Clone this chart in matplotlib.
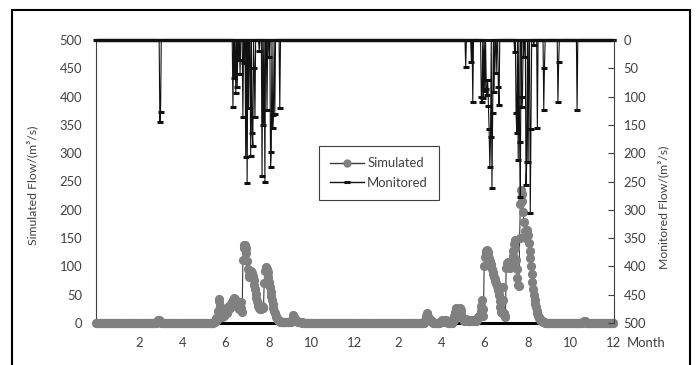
import numpy as np
import matplotlib
matplotlib.use('Agg')
import matplotlib.pyplot as plt
from matplotlib.lines import Line2D
from matplotlib.patches import Rectangle

plt.rcParams['font.family'] = ['Lato', 'DejaVu Sans']

""" data """
# two years of daily flow, m3/s
n_days = 730

# simulated flow: zero baseline with these runs of daily values (start day, values)
sim_y1_spring_start = 86
sim_y1_spring = [2, 4, 6, 5, 3, 2]

sim_y1_flood_start = 166
sim_y1_flood = [1, 2, 4, 8, 5, 9, 22, 38, 42, 30, 16, 12, 10, 14, 18, 13, 20, 24, 17, 22,
                28, 24, 30, 26, 33, 37, 31, 40, 44, 38, 42, 35, 30, 34, 37, 29, 24, 32, 37, 27,
                20, 112, 132, 138, 137, 133, 124, 110, 96, 85, 82, 86, 90, 91, 88, 83, 76, 68, 60, 52,
                45, 39, 34, 30, 27, 25, 24, 27, 30, 28, 26, 70, 92, 98, 99, 96, 90, 82, 73, 64,
                55, 47, 40, 33, 27, 22, 17, 13, 10, 8, 6, 5, 4, 3, 2, 2, 1, 1, 1, 1,
                1, 1, 1, 1, 1, 1, 1, 1, 1, 2, 6, 11, 14, 11, 7, 5, 4, 3, 2, 2,
                1, 1, 1, 1, 1]

sim_y2_spring_start = 463
sim_y2_spring = [3, 6, 12, 18, 16, 11, 8, 6, 5, 4, 3, 2]

sim_y2_may_start = 485
sim_y2_may = [2, 4, 3, 5, 3, 2, 4, 6, 5, 3, 2]

sim_y2_flood_start = 503
sim_y2_flood = [3, 6, 12, 20, 25, 26, 22, 16, 20, 25, 26, 23, 16, 10, 7, 5, 4, 3, 5, 7,
                5, 4, 3, 3, 4, 6, 4, 3, 3, 4, 5, 4, 3, 4, 6, 8, 10, 13, 15, 22,
                30, 40, 25, 12, 100, 116, 124, 128, 129, 126, 120, 114, 109, 104, 99, 95, 90, 86, 82, 78,
                74, 70, 66, 62, 58, 50, 38, 28, 20, 18, 64, 40, 18, 12, 10, 98, 106, 108, 104, 100,
                97, 100, 104, 110, 118, 128, 140, 147, 132, 112, 95, 80, 68, 66, 150, 210, 235, 228, 215, 196,
                178, 162, 152, 150, 158, 164, 156, 142, 128, 114, 100, 86, 72, 60, 50, 41, 34, 28, 22, 17,
                13, 10, 8, 6, 5, 4, 3, 2, 2, 1]

sim_y2_late_start = 686
sim_y2_late = [1, 2, 4, 3, 2]

# monitored flow: zero except on these days
mon_days = [90, 91,
            193, 195, 197, 199, 201, 203, 207, 209, 211, 213, 215, 218, 220, 221, 223, 224,
            230, 234, 236, 238, 241, 244, 246, 247, 249, 250, 252, 259,
            521, 529, 531, 543, 544, 546, 548, 550, 551, 552, 553, 554, 555, 556, 558, 559,
            561, 564, 567, 568, 590, 592, 593, 595, 597, 598, 600, 601, 603, 606, 607, 609,
            612, 613, 617, 622, 631, 632, 651, 652, 678]
mon_vals = [145, 127,
            119, 67, 94, 83, 35, 60, 136, 40, 206, 253, 120, 205, 164, 187, 50, 136,
            20, 240, 150, 250, 124, 30, 224, 198, 156, 132, 130, 121,
            47, 38, 109, 100, 110, 102, 90, 87, 97, 71, 117, 158, 225, 171, 262, 129,
            92, 58, 83, 115, 21, 129, 165, 212, 180, 277, 118, 100, 30, 256, 216, 216,
            305, 158, 9, 156, 123, 49, 110, 39, 124]

month_ticks = [2, 4, 6, 8, 10, 12, 14, 16, 18, 20, 22, 24]
month_labels = ['2', '4', '6', '8', '10', '12', '2', '4', '6', '8', '10', '12']
flow_ticks = list(range(0, 501, 50))

""" build series """
day = np.arange(n_days)
simulated = np.zeros(n_days)
for start, vals in [(sim_y1_spring_start, sim_y1_spring), (sim_y1_flood_start, sim_y1_flood),
                    (sim_y2_spring_start, sim_y2_spring), (sim_y2_may_start, sim_y2_may),
                    (sim_y2_flood_start, sim_y2_flood), (sim_y2_late_start, sim_y2_late)]:
    simulated[start:start + len(vals)] = vals
monitored = np.zeros(n_days)
monitored[mon_days] = mon_vals

""" plot """
text_col = '#404040'
fs = 9.4
fs_lab = 8.8
fig = plt.figure(figsize=(6.97, 3.65), dpi=100)
fig.patches.append(Rectangle((12 / 697, -0.1), 678 / 697, 1.1 - 10 / 365, transform=fig.transFigure,
                             fill=False, edgecolor='black', linewidth=1.5))

ax1 = fig.add_axes([96 / 697, 1 - 323 / 365, 518 / 697, 283 / 365])
ax1.plot(day, simulated, color='#3a3a3a', linewidth=0.8, marker='o', markersize=5.6,
         markerfacecolor='#808080', markeredgecolor='#808080', clip_on=False, zorder=3)
ax1.set_xlim(0, n_days)
ax1.set_ylim(0, 500)
ax1.set_yticks(flow_ticks)
ax1.set_xticks([m * n_days / 24 for m in month_ticks])
ax1.set_xticklabels(month_labels)
ax1.tick_params(axis='x', length=0, pad=10, labelsize=fs, labelcolor=text_col)
ax1.tick_params(axis='y', length=0, pad=10, labelsize=fs, labelcolor=text_col)
ax1.spines['top'].set_visible(False)
ax1.spines['right'].set_visible(False)
ax1.spines['left'].set_color('#404040')
ax1.spines['left'].set_linewidth(0.8)
ax1.spines['bottom'].set_color('black')
ax1.spines['bottom'].set_linewidth(2.2)
ax1.set_ylabel('Simulated Flow/(m³/s)', fontsize=fs_lab, color=text_col)
ax1.yaxis.set_label_coords(-0.112, 0.488)

ax2 = ax1.twinx()
ax2.plot(day, monitored, color='#111111', linewidth=0.8, marker='_', markersize=4.5,
         markeredgewidth=2.2, clip_on=False)
ax2.set_ylim(500, 0)
ax2.set_yticks(flow_ticks)
ax2.tick_params(axis='y', direction='in', length=4, width=0.8, color='#404040', pad=7,
                labelsize=fs, labelcolor=text_col)
for s in ['top', 'left', 'bottom']:
    ax2.spines[s].set_visible(False)
ax2.spines['right'].set_color('#404040')
ax2.spines['right'].set_linewidth(0.8)
ax2.set_ylabel('Monitored Flow/(m³/s)', fontsize=fs_lab, color=text_col)
ax2.yaxis.set_label_coords(1.085, 0.41)

fig.text(627 / 697, 1 - 343 / 365, 'Month', fontsize=fs, color=text_col, ha='left', va='center')

handles = [Line2D([], [], color='#3a3a3a', linewidth=1, marker='o', markersize=5,
                  markerfacecolor='#808080', markeredgecolor='#808080'),
           Line2D([], [], color='#111111', linewidth=1, marker='_', markersize=4,
                  markeredgewidth=2.2)]
leg = ax2.legend(handles, ['Simulated', 'Monitored'], loc='upper left', bbox_to_anchor=(0.43, 0.625),
                 fontsize=fs, frameon=True, fancybox=False, framealpha=1, edgecolor='#404040',
                 handlelength=2.6, handletextpad=0.25, labelspacing=0.6, borderpad=0.85,
                 borderaxespad=0)
leg.get_frame().set_linewidth(0.8)
for t in leg.get_texts():
    t.set_color(text_col)

fig.savefig('out.png', dpi=100)
